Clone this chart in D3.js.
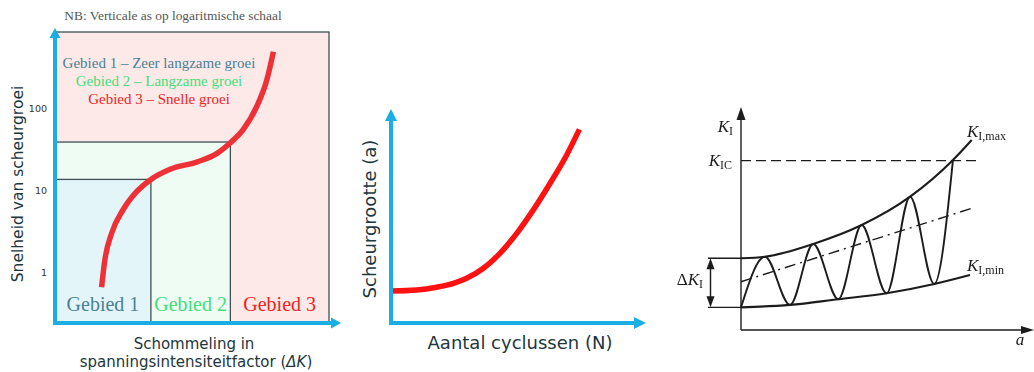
<!DOCTYPE html>
<html>
<head>
<meta charset="utf-8">
<script src="https://cdn.jsdelivr.net/npm/d3@7"></script>
<style>
  body { margin: 0; background: #fff; }
  svg { display: block; }
</style>
</head>
<body>
<svg id="chart" width="1034" height="372"></svg>
<script>
// ---------- Data ----------
// Left: crack growth rate against stress intensity range (log rate axis)
const rateTicks = [1, 10, 100];
const regionLabels = ["Gebied 1", "Gebied 2", "Gebied 3"];
const regionLegend = ["Gebied 1 – Zeer langzame groei", "Gebied 2 – Langzame groei", "Gebied 3 – Snelle groei"];
const regionDeltaK = [35, 64, 100];     // right edge of each region on the ΔK axis
const regionRate = [13.6, 38.7, 840];   // upper edge of each region on the rate axis
const growthDeltaK = [17.0, 18.2, 20.7, 24.8, 29.8, 35.0, 42.0, 51.7, 59.0, 64.0, 68.6, 73.6, 77.3, 79.7];
const growthRate = [0.665, 1.43, 3.04, 5.78, 9.64, 13.6, 18.1, 22.1, 28.0, 38.0, 54.2, 104, 219, 484];

// Middle: crack size against number of cycles
const cycleCount = [0, 1.07, 1.90, 2.60, 3.15, 3.85, 4.54, 5.24, 5.93, 6.63, 7.32, 7.85];
const crackSize = [1.50, 1.55, 1.68, 1.86, 2.10, 2.57, 3.27, 4.21, 5.31, 6.56, 7.89, 9.09];

// Right: stress intensity K_I against crack length a
const maxA = [0, 0.857, 2.58, 4.31, 6.04, 7.57, 8.24];
const maxK = [3.26, 3.33, 3.91, 4.77, 6.06, 7.73, 8.64];
const minA = [0, 1.75, 3.475, 5.20, 6.90, 8.18];
const minK = [1.03, 1.14, 1.40, 1.67, 2.09, 2.50];
const loadA = [0, 0.857, 1.75, 2.58, 3.475, 4.31, 5.20, 6.04, 6.90, 7.57];
const loadK = [1.03, 3.33, 1.14, 3.91, 1.40, 4.77, 1.67, 6.06, 2.09, 7.73];
const meanA = [0, 8.24];
const meanK = [2.195, 5.53];
const kIC = 7.70;
const kICEnd = 8.54;

// ---------- Styling ----------
const svg = d3.select("#chart");
const axisBlue = "#1aaee4";
const ink = "#22363d";
const serif = "'Liberation Serif', 'Times New Roman', serif";
const sans = "'DejaVu Sans', Verdana, sans-serif";
const regionFill = ["#e4f5fa", "#effcf4", "#fdeae8"];
const regionText = ["#4a8195", "#44de7a", "#ec2426"];
const zip = (xs, ys) => xs.map((x, i) => [x, ys[i]]);

// soft edge for the line drawing on the right
svg.append("defs").append("filter").attr("id", "soft")
  .append("feGaussianBlur").attr("stdDeviation", 0.45);

function arrowHead(g, tip, dir, len, width, color) {
  const [tx, ty] = tip;
  let pts;
  if (dir === "up") pts = [[tx, ty], [tx - width / 2, ty + len], [tx + width / 2, ty + len]];
  else if (dir === "down") pts = [[tx, ty], [tx - width / 2, ty - len], [tx + width / 2, ty - len]];
  else pts = [[tx, ty], [tx - len, ty - width / 2], [tx - len, ty + width / 2]];
  g.append("path").attr("d", "M" + pts.join("L") + "Z").attr("fill", color);
}

// ---------- Left panel ----------
const p1 = svg.append("g");
const x1 = d3.scaleLinear().domain([0, 100]).range([55, 329]);
const y1 = d3.scaleLog().domain([0.245, 840]).range([323, 32]);

// nested regions, widest first
d3.range(regionLabels.length).reverse().forEach(i => {
  p1.append("rect")
    .attr("x", x1(0))
    .attr("y", y1(regionRate[i]))
    .attr("width", x1(regionDeltaK[i]) - x1(0))
    .attr("height", y1.range()[0] - y1(regionRate[i]))
    .attr("fill", regionFill[i])
    .attr("stroke", "#3f5055")
    .attr("stroke-width", 1.3);
});

// region names along the bottom
regionLabels.forEach((lab, i) => {
  const lo = i === 0 ? 0 : regionDeltaK[i - 1];
  p1.append("text")
    .attr("x", x1((lo + regionDeltaK[i]) / 2))
    .attr("y", 310.5)
    .attr("text-anchor", "middle")
    .attr("font-family", serif)
    .attr("font-size", 20)
    .attr("fill", regionText[i])
    .text(lab);
});

// legend lines
regionLegend.forEach((lab, i) => {
  p1.append("text")
    .attr("x", 159)
    .attr("y", 67.5 + i * 18.3)
    .attr("text-anchor", "middle")
    .attr("font-family", serif)
    .attr("font-size", 15)
    .attr("fill", regionText[i])
    .text(lab);
});

// growth curve
p1.append("path")
  .datum(zip(growthDeltaK, growthRate))
  .attr("d", d3.line().x(d => x1(d[0])).y(d => y1(d[1])).curve(d3.curveMonotoneX))
  .attr("fill", "none")
  .attr("stroke", "#ee3136")
  .attr("stroke-width", 5.5);

// rate ticks
const yAxis1 = p1.append("g")
  .attr("transform", `translate(${x1(0)},0)`)
  .call(d3.axisLeft(y1).tickValues(rateTicks).tickFormat(d3.format("d")).tickSize(0).tickPadding(8));
yAxis1.select(".domain").remove();
yAxis1.selectAll("text").attr("font-family", sans).attr("font-size", 9.5).attr("fill", "#333");

// axes with arrows
p1.append("line").attr("x1", x1(0)).attr("x2", x1(0)).attr("y1", 325).attr("y2", 36)
  .attr("stroke", axisBlue).attr("stroke-width", 4);
arrowHead(p1, [x1(0), 28], "up", 10, 11, axisBlue);
p1.append("line").attr("x1", x1(0) - 2).attr("x2", 332).attr("y1", 323).attr("y2", 323)
  .attr("stroke", axisBlue).attr("stroke-width", 4);
arrowHead(p1, [341, 323], "right", 10, 11, axisBlue);

p1.append("text")
  .attr("x", 173).attr("y", 20)
  .attr("text-anchor", "middle")
  .attr("font-family", serif).attr("font-size", 13.4).attr("fill", "#555")
  .text("NB: Verticale as op logaritmische schaal");

p1.append("text")
  .attr("transform", "translate(23,184) rotate(-90)")
  .attr("text-anchor", "middle")
  .attr("font-family", sans).attr("font-size", 15.5).attr("fill", ink)
  .text("Snelheid van scheurgroei");

p1.append("text")
  .attr("x", 194).attr("y", 349)
  .attr("text-anchor", "middle")
  .attr("font-family", sans).attr("font-size", 15).attr("fill", ink)
  .text("Schommeling in");
const xl2 = p1.append("text")
  .attr("x", 196).attr("y", 367)
  .attr("text-anchor", "middle")
  .attr("font-family", sans).attr("font-size", 15).attr("fill", ink);
xl2.append("tspan").text("spanningsintensiteitfactor (");
xl2.append("tspan").attr("font-style", "italic").text("ΔK");
xl2.append("tspan").text(")");

// ---------- Middle panel ----------
const p2 = svg.append("g");
const x2 = d3.scaleLinear().domain([0, 10]).range([391, 631]);
const y2 = d3.scaleLinear().domain([0, 10]).range([323, 110]);

p2.append("path")
  .datum(zip(cycleCount, crackSize))
  .attr("d", d3.line().x(d => x2(d[0])).y(d => y2(d[1])).curve(d3.curveMonotoneX))
  .attr("fill", "none")
  .attr("stroke", "#fe1111")
  .attr("stroke-width", 5.5);

p2.append("line").attr("x1", x2(0)).attr("x2", x2(0)).attr("y1", y2(0) + 2).attr("y2", 120)
  .attr("stroke", axisBlue).attr("stroke-width", 4);
arrowHead(p2, [x2(0), 109], "up", 12, 12, axisBlue);
p2.append("line").attr("x1", x2(0) - 2).attr("x2", 636).attr("y1", y2(0)).attr("y2", y2(0))
  .attr("stroke", axisBlue).attr("stroke-width", 4);
arrowHead(p2, [646, y2(0)], "right", 12, 12, axisBlue);

p2.append("text")
  .attr("transform", "translate(376,219) rotate(-90)")
  .attr("text-anchor", "middle")
  .attr("font-family", sans).attr("font-size", 18).attr("fill", ink)
  .text("Scheurgrootte (a)");
p2.append("text")
  .attr("x", 520).attr("y", 349)
  .attr("text-anchor", "middle")
  .attr("font-family", sans).attr("font-size", 18).attr("fill", ink)
  .text("Aantal cyclussen (N)");

// ---------- Right panel ----------
const p3 = svg.append("g").attr("filter", "url(#soft)");
const x3 = d3.scaleLinear().domain([0, 10]).range([741, 1021]);
const y3 = d3.scaleLinear().domain([0, 10]).range([330, 110]);
const black = "#1c1c1c";
const line3 = d3.line().x(d => x3(d[0])).y(d => y3(d[1]));

// K_IC level
p3.append("line")
  .attr("x1", x3(0)).attr("x2", x3(kICEnd)).attr("y1", y3(kIC)).attr("y2", y3(kIC))
  .attr("stroke", black).attr("stroke-width", 1.4).attr("stroke-dasharray", "10,5");

// mean load line
p3.append("path")
  .datum(zip(meanA, meanK))
  .attr("d", line3)
  .attr("fill", "none").attr("stroke", black).attr("stroke-width", 1.4)
  .attr("stroke-dasharray", "11,5,2,5");

// envelopes
p3.append("path").datum(zip(maxA, maxK))
  .attr("d", line3.curve(d3.curveMonotoneX))
  .attr("fill", "none").attr("stroke", black).attr("stroke-width", 2.1);
p3.append("path").datum(zip(minA, minK))
  .attr("d", line3.curve(d3.curveMonotoneX))
  .attr("fill", "none").attr("stroke", black).attr("stroke-width", 2.1);

// cyclic load
p3.append("path").datum(zip(loadA, loadK))
  .attr("d", line3.curve(d3.curveMonotoneX))
  .attr("fill", "none").attr("stroke", black).attr("stroke-width", 1.9);

// ΔK_I bracket
const bx = x3(0) - 30.5;
[maxK[0], minK[0]].forEach(k => {
  p3.append("line").attr("x1", x3(0) - 33).attr("x2", x3(0)).attr("y1", y3(k)).attr("y2", y3(k))
    .attr("stroke", black).attr("stroke-width", 1.4);
});
p3.append("line").attr("x1", bx).attr("x2", bx).attr("y1", y3(maxK[0]) + 8).attr("y2", y3(minK[0]) - 8)
  .attr("stroke", black).attr("stroke-width", 1.4);
arrowHead(p3, [bx, y3(maxK[0])], "up", 11, 8, black);
arrowHead(p3, [bx, y3(minK[0])], "down", 11, 8, black);

// axes
p3.append("line").attr("x1", x3(0)).attr("x2", x3(0)).attr("y1", y3(0)).attr("y2", 118)
  .attr("stroke", black).attr("stroke-width", 1.4);
arrowHead(p3, [x3(0), 107], "up", 13, 9, black);
p3.append("line").attr("x1", x3(0)).attr("x2", 1022).attr("y1", y3(0)).attr("y2", y3(0))
  .attr("stroke", black).attr("stroke-width", 1.4);
arrowHead(p3, [1034, y3(0)], "right", 13, 8, black);

// labels
function kLabel(x, y, anchor, sub, prefix) {
  const t = p3.append("text")
    .attr("x", x).attr("y", y)
    .attr("text-anchor", anchor)
    .attr("font-family", serif).attr("font-size", 17).attr("fill", black);
  if (prefix) t.append("tspan").text(prefix);
  t.append("tspan").attr("font-style", "italic").text("K");
  t.append("tspan").attr("font-size", 12).attr("dy", 3).text(sub);
  return t;
}
kLabel(733, 131.5, "end", "I");
kLabel(732, 166, "end", "IC");
kLabel(967, 137, "start", "I,max");
kLabel(967, 271, "start", "I,min");
kLabel(703, 285, "end", "I", "Δ");
p3.append("text")
  .attr("x", 1020).attr("y", 345)
  .attr("text-anchor", "middle")
  .attr("font-family", serif).attr("font-size", 17).attr("font-style", "italic").attr("fill", black)
  .text("a");
</script>
</body>
</html>
